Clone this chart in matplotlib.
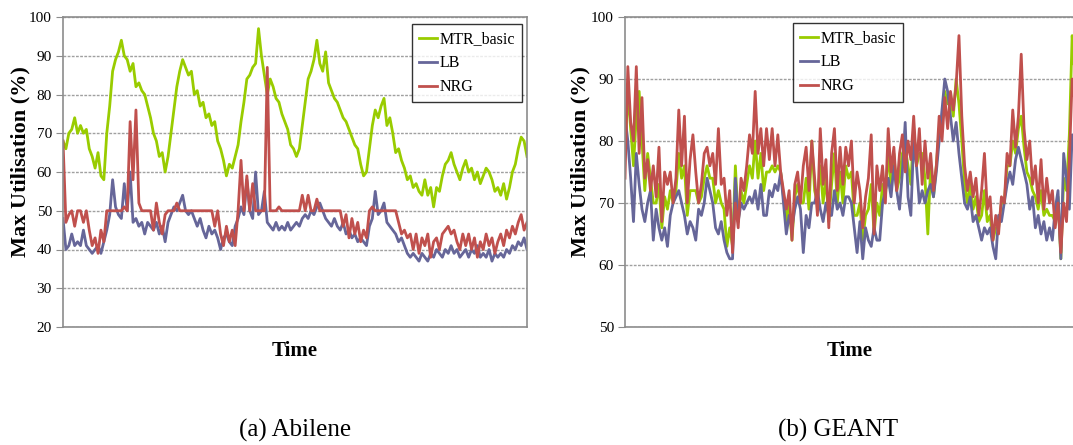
import numpy as np
import matplotlib
matplotlib.use('Agg')
import matplotlib.pyplot as plt

plt.rcParams['font.family'] = ['Liberation Serif', 'DejaVu Serif']

# ---- (a) Abilene ----
abilene_mtr = [68, 66, 70, 71, 74, 70, 72, 70, 71, 66,
               64, 61, 65, 59, 58, 70, 77, 86, 89, 91,
               94, 90, 89, 86, 88, 82, 83, 81, 80, 77,
               74, 70, 68, 64, 65, 60, 64, 70, 76, 82,
               86, 89, 87, 85, 86, 80, 81, 77, 78, 74,
               75, 72, 73, 68, 66, 63, 59, 62, 61, 64,
               67, 73, 78, 84, 85, 87, 88, 97, 90, 85,
               80, 84, 82, 79, 78, 75, 73, 71, 67, 66,
               64, 66, 72, 78, 84, 86, 89, 94, 88, 86,
               91, 83, 81, 79, 78, 76, 74, 73, 71, 69,
               67, 66, 62, 59, 60, 66, 72, 76, 74, 77,
               79, 72, 74, 70, 65, 66, 63, 61, 58, 59,
               56, 57, 55, 54, 58, 54, 56, 51, 56, 55,
               59, 62, 63, 65, 62, 60, 58, 61, 63, 60,
               61, 58, 60, 57, 59, 61, 60, 58, 55, 56,
               54, 57, 53, 56, 60, 62, 66, 69, 68, 64]
abilene_lb = [48, 40, 41, 44, 41, 42, 41, 45, 41, 40,
              39, 40, 41, 39, 42, 45, 49, 58, 51, 49,
              48, 57, 50, 60, 47, 48, 46, 47, 44, 47,
              46, 45, 47, 44, 46, 42, 47, 49, 51, 50,
              52, 54, 50, 49, 50, 48, 46, 48, 45, 43,
              46, 44, 45, 43, 40, 43, 44, 42, 41, 46,
              48, 51, 49, 58, 50, 48, 60, 49, 50, 55,
              47, 46, 45, 47, 45, 46, 45, 47, 45, 46,
              47, 46, 48, 49, 48, 50, 49, 51, 52, 50,
              48, 47, 46, 48, 46, 45, 47, 44, 45, 43,
              44, 42, 43, 42, 41, 46, 48, 55, 49, 50,
              52, 47, 46, 45, 44, 42, 43, 41, 39, 38,
              39, 38, 37, 39, 38, 37, 39, 38, 40, 39,
              38, 40, 39, 41, 39, 40, 38, 39, 40, 38,
              40, 39, 41, 38, 39, 38, 40, 37, 39, 38,
              39, 38, 40, 39, 41, 40, 42, 41, 43, 40]
abilene_nrg = [68, 47, 49, 50, 46, 50, 50, 47, 50, 45,
               41, 43, 39, 45, 42, 50, 50, 50, 50, 50,
               50, 51, 50, 73, 58, 76, 52, 50, 50, 50,
               50, 45, 52, 47, 44, 49, 50, 50, 50, 52,
               50, 50, 50, 50, 50, 50, 50, 50, 50, 50,
               50, 50, 46, 50, 44, 41, 46, 42, 45, 41,
               50, 63, 50, 59, 50, 57, 50, 50, 50, 50,
               87, 50, 50, 50, 51, 50, 50, 50, 50, 50,
               50, 50, 54, 50, 54, 50, 50, 53, 50, 50,
               50, 50, 50, 50, 50, 50, 46, 49, 43, 48,
               44, 47, 42, 45, 43, 50, 51, 50, 50, 50,
               50, 50, 50, 50, 50, 47, 44, 45, 43, 44,
               40, 44, 39, 43, 41, 44, 38, 42, 43, 40,
               44, 45, 46, 44, 45, 42, 40, 44, 41, 44,
               40, 43, 38, 42, 40, 44, 41, 43, 39, 42,
               44, 41, 45, 43, 46, 44, 47, 49, 45, 47]

# ---- (b) GEANT ----
geant_mtr = [78, 88, 82, 76, 84, 88, 80, 72, 78, 74,
             70, 70, 73, 66, 71, 69, 72, 70, 72, 78,
             74, 76, 68, 72, 72, 72, 70, 71, 74, 76,
             74, 74, 70, 72, 70, 69, 63, 66, 63, 76,
             67, 72, 70, 73, 76, 74, 80, 74, 78, 72,
             75, 75, 76, 75, 76, 75, 71, 67, 70, 64,
             71, 73, 70, 70, 74, 69, 80, 72, 70, 76,
             70, 74, 67, 73, 78, 70, 75, 70, 76, 74,
             75, 68, 68, 70, 64, 68, 69, 73, 65, 70,
             68, 73, 71, 78, 73, 78, 72, 74, 78, 79,
             76, 73, 82, 76, 78, 78, 74, 65, 76, 71,
             76, 82, 83, 88, 86, 87, 84, 90, 86, 80,
             73, 70, 73, 69, 71, 67, 68, 72, 67, 68,
             64, 66, 66, 70, 70, 76, 76, 80, 78, 82,
             84, 79, 75, 74, 72, 71, 69, 72, 68, 69,
             68, 68, 67, 71, 61, 74, 72, 81, 97, 90]
geant_lb = [84, 80, 74, 67, 78, 73, 69, 67, 70, 72,
            64, 69, 66, 64, 66, 63, 68, 70, 71, 72,
            70, 68, 65, 67, 66, 64, 69, 68, 70, 74,
            72, 70, 66, 65, 67, 64, 62, 61, 61, 74,
            67, 70, 69, 70, 71, 70, 72, 69, 73, 68,
            68, 72, 71, 73, 72, 75, 70, 65, 68, 66,
            69, 71, 69, 62, 68, 66, 70, 70, 72, 69,
            67, 70, 68, 68, 72, 69, 70, 68, 71, 71,
            70, 66, 62, 67, 61, 66, 64, 63, 66, 64,
            64, 70, 72, 74, 71, 76, 72, 69, 75, 83,
            71, 68, 80, 76, 70, 72, 70, 72, 73, 71,
            75, 80, 85, 90, 88, 84, 80, 83, 78, 74,
            70, 69, 71, 67, 68, 66, 64, 66, 65, 66,
            63, 61, 68, 67, 70, 73, 75, 73, 77, 79,
            77, 75, 73, 69, 71, 66, 68, 65, 67, 64,
            66, 64, 69, 72, 61, 78, 74, 69, 81, 80]
geant_nrg = [74, 92, 83, 80, 92, 78, 87, 74, 77, 72,
             76, 71, 79, 67, 75, 73, 75, 70, 74, 85,
             76, 84, 70, 77, 81, 75, 70, 73, 78, 79,
             76, 78, 73, 82, 73, 74, 68, 72, 62, 70,
             66, 74, 72, 76, 81, 78, 88, 78, 82, 76,
             82, 77, 82, 76, 81, 75, 72, 69, 72, 64,
             73, 75, 70, 76, 79, 72, 80, 74, 68, 82,
             73, 77, 66, 78, 82, 72, 79, 73, 79, 76,
             80, 70, 75, 72, 66, 71, 74, 81, 65, 76,
             72, 76, 70, 82, 75, 79, 72, 78, 81, 75,
             80, 77, 84, 76, 82, 73, 80, 74, 78, 72,
             76, 84, 80, 87, 82, 88, 85, 89, 97, 84,
             76, 72, 75, 71, 74, 68, 72, 78, 69, 71,
             64, 68, 65, 71, 70, 78, 76, 85, 79, 84,
             94, 82, 77, 80, 73, 76, 70, 77, 69, 74,
             70, 72, 66, 70, 62, 70, 67, 77, 90, 86]

series_names = ['MTR_basic', 'LB', 'NRG']
colors = ['#99cc00', '#666699', '#c0504d']

W, H = 1073, 445
fig = plt.figure(figsize=(W / 100, H / 100), dpi=100)

def px_axes(x0, y0, x1, y1):
    return fig.add_axes([x0 / W, 1 - y1 / H, (x1 - x0) / W, (y1 - y0) / H])

ax1 = px_axes(63, 17, 527, 327)
ax2 = px_axes(625, 17, 1075, 327)

# axes, data, y range, legend anchor (upper right), ylabel x position
panels = [
    (ax1, [abilene_mtr, abilene_lb, abilene_nrg], (20, 100), (0.989, 0.977), -0.071),
    (ax2, [geant_mtr, geant_lb, geant_nrg], (50, 100), (0.618, 0.98), -0.076),
]

for ax, data, ylim, anchor, ylab_x in panels:
    n = len(data[0])
    x = np.arange(n)
    for name, vals, c in zip(series_names, data, colors):
        ax.plot(x, vals, color=c, lw=2.0, label=name)
    ax.set_xlim(0, n - 1)
    ax.set_ylim(*ylim)
    ax.set_yticks(np.arange(ylim[0], ylim[1] + 1, 10))
    ax.set_xticks([])
    ax.grid(axis='y', color='#a0a0a0', lw=1.0, ls=(0, (2, 1)))
    ax.set_axisbelow(True)
    for s in ax.spines.values():
        s.set_color('#8c8c8c')
        s.set_linewidth(1.2)
    ax.tick_params(axis='y', direction='out', length=5, color='#8c8c8c',
                   labelsize=11, pad=3)
    ax.set_ylabel('Max Utilisation (%)', fontsize=16, fontweight='bold')
    ax.yaxis.set_label_coords(ylab_x, 0.535)
    ax.set_xlabel('Time', fontsize=15, fontweight='bold', labelpad=10)
    leg = ax.legend(loc='upper right', bbox_to_anchor=anchor, fontsize=11.5,
                    frameon=True, fancybox=False, edgecolor='black',
                    handlelength=1.1, handletextpad=0.15, borderpad=0.45,
                    labelspacing=0.5, borderaxespad=0)
    leg.get_frame().set_linewidth(1.0)

fig.text(295 / W, 1 - 430 / H, '(a) Abilene', ha='center', va='center', fontsize=18)
fig.text(838 / W, 1 - 430 / H, '(b) GEANT', ha='center', va='center', fontsize=18)

fig.savefig('out.png', dpi=100)
